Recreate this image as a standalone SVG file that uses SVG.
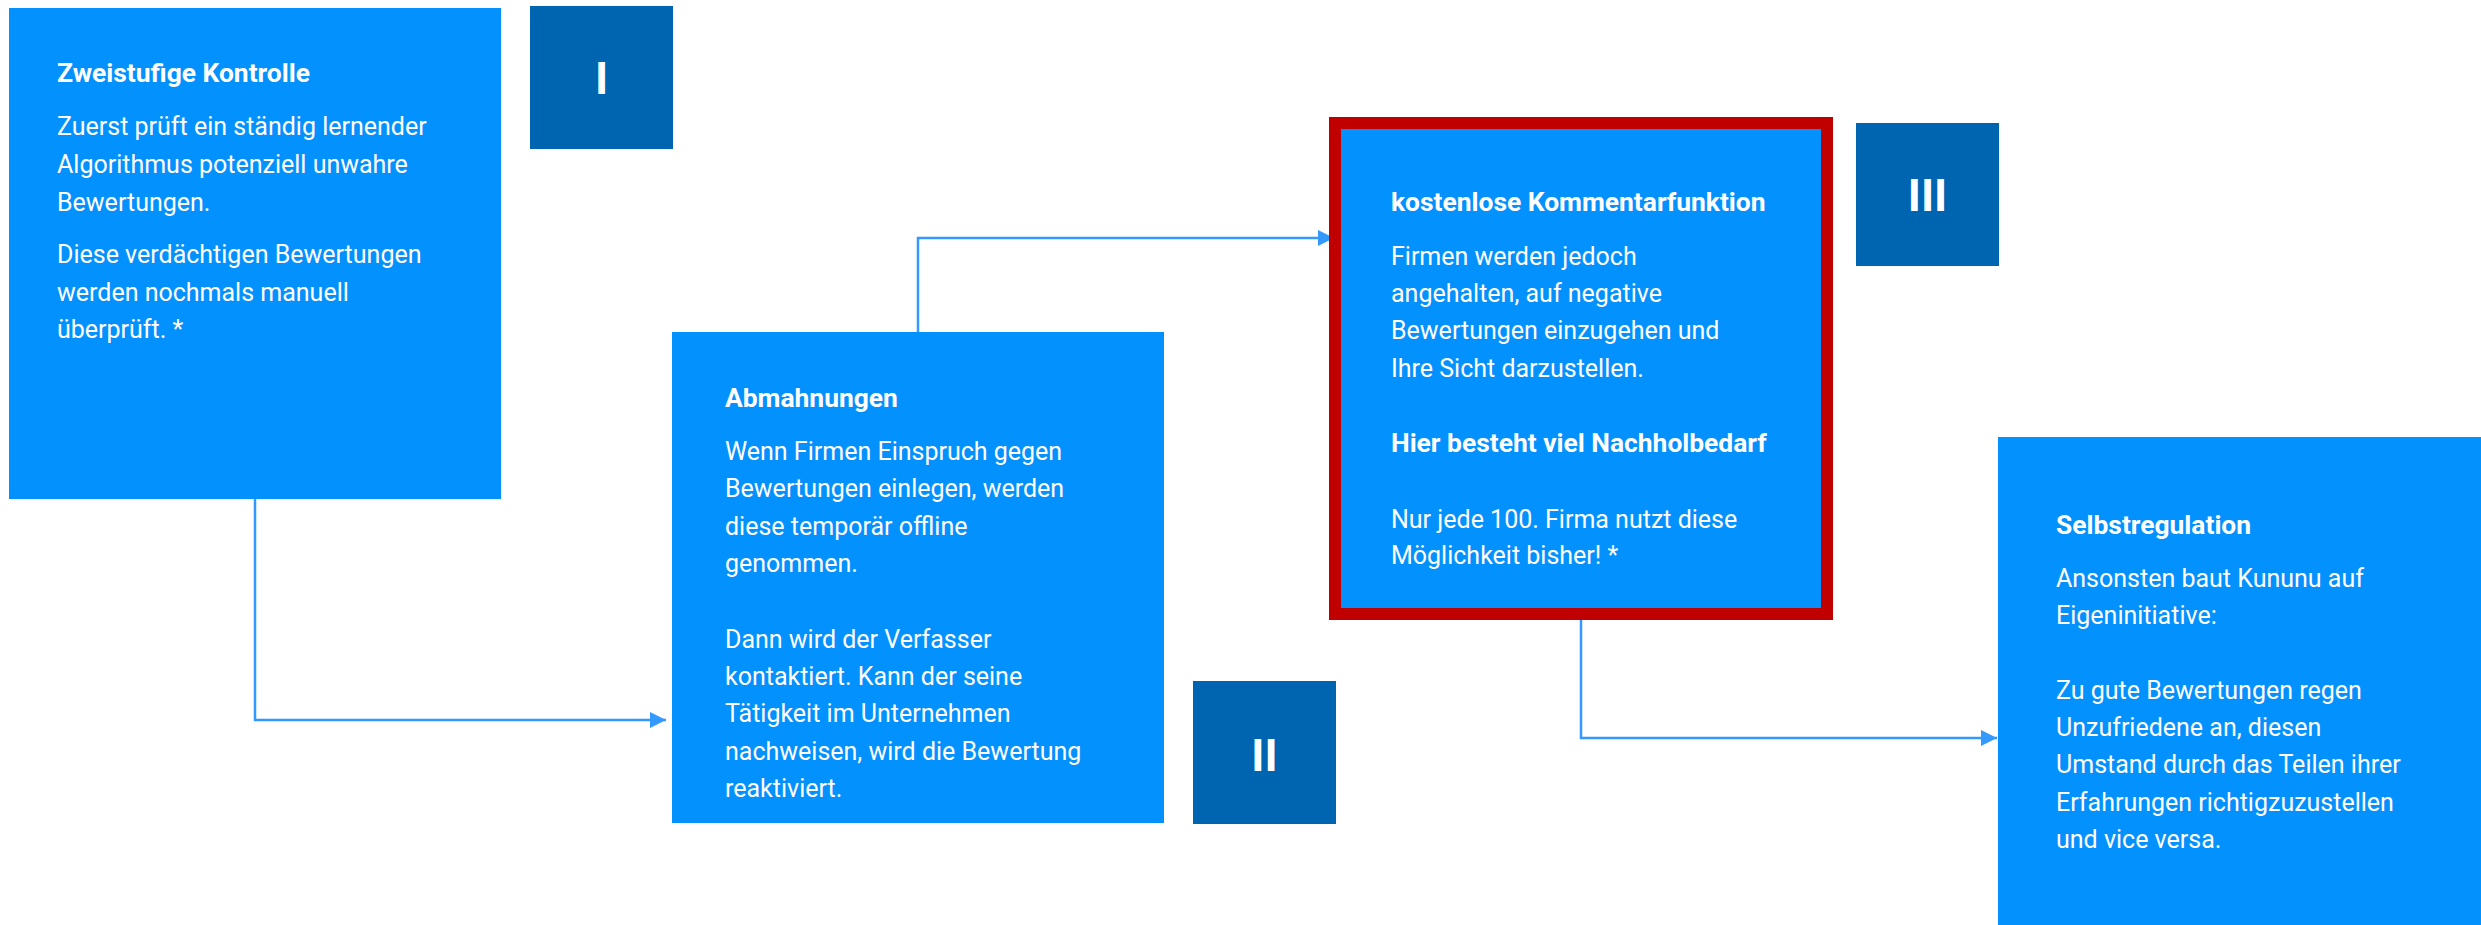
<svg xmlns="http://www.w3.org/2000/svg" width="2481" height="925" viewBox="0 0 2481 925">
<defs>
<style>
.box{fill:#0391FE}
.badge{fill:#0065B0}
.t{font-family:Roboto,"Liberation Sans",sans-serif;font-size:25px;fill:#FFFFFF}
.b{font-weight:700;font-size:26.4px}
.num{font-family:Roboto,"Liberation Sans",sans-serif;font-size:45px;font-weight:700;fill:#FFFFFF;text-anchor:middle}
.con{fill:none;stroke:#3399FF;stroke-width:2.5}
</style>
<marker id="arr" markerWidth="16" markerHeight="16" viewBox="0 0 16 16" refX="16" refY="8" orient="auto" markerUnits="userSpaceOnUse">
<path d="M0,0 L16,8 L0,16 Z" fill="#3399FF"/>
</marker>
</defs>
<rect width="2481" height="925" fill="#FFFFFF"/>
<g id="connectors">
<path class="con" d="M255,499 V720 H666" marker-end="url(#arr)"/>
<path class="con" d="M918,332 V238 H1334" marker-end="url(#arr)"/>
<path class="con" d="M1581,620 V738 H1997" marker-end="url(#arr)"/>
</g>
<g id="node1">
<rect class="box" x="9" y="8" width="492" height="491"/>
<text class="t b" x="57" y="82">Zweistufige Kontrolle</text>
<text class="t" x="57" y="135">Zuerst prüft ein ständig lernender</text>
<text class="t" x="57" y="173">Algorithmus potenziell unwahre</text>
<text class="t" x="57" y="211">Bewertungen.</text>
<text class="t" x="57" y="263">Diese verdächtigen Bewertungen</text>
<text class="t" x="57" y="301">werden nochmals manuell</text>
<text class="t" x="57" y="338">überprüft. *</text>
</g>
<g id="badge1">
<rect class="badge" x="530" y="6" width="143" height="143"/>
<text class="num" x="601.5" y="94">I</text>
</g>
<g id="node2">
<rect class="box" x="672" y="332" width="492" height="491"/>
<text class="t b" x="725" y="407">Abmahnungen</text>
<text class="t" x="725" y="460">Wenn Firmen Einspruch gegen</text>
<text class="t" x="725" y="497">Bewertungen einlegen, werden</text>
<text class="t" x="725" y="535">diese temporär offline</text>
<text class="t" x="725" y="572">genommen.</text>
<text class="t" x="725" y="648">Dann wird der Verfasser</text>
<text class="t" x="725" y="685">kontaktiert. Kann der seine</text>
<text class="t" x="725" y="722">Tätigkeit im Unternehmen</text>
<text class="t" x="725" y="760">nachweisen, wird die Bewertung</text>
<text class="t" x="725" y="797">reaktiviert.</text>
</g>
<g id="badge2">
<rect class="badge" x="1193" y="681" width="143" height="143"/>
<text class="num" x="1264.5" y="771">II</text>
</g>
<g id="node3">
<rect class="box" x="1335" y="123" width="492" height="491" stroke="#C00000" stroke-width="12"/>
<text class="t b" x="1391" y="211">kostenlose Kommentarfunktion</text>
<text class="t" x="1391" y="265">Firmen werden jedoch</text>
<text class="t" x="1391" y="302">angehalten, auf negative</text>
<text class="t" x="1391" y="339">Bewertungen einzugehen und</text>
<text class="t" x="1391" y="377">Ihre Sicht darzustellen.</text>
<text class="t b" x="1391" y="452">Hier besteht viel Nachholbedarf</text>
<text class="t" x="1391" y="528">Nur jede 100. Firma nutzt diese</text>
<text class="t" x="1391" y="564">Möglichkeit bisher! *</text>
</g>
<g id="badge3">
<rect class="badge" x="1856" y="123" width="143" height="143"/>
<text class="num" x="1927.5" y="211">III</text>
</g>
<g id="node4">
<rect class="box" x="1998" y="437" width="492" height="491"/>
<text class="t b" x="2056" y="534">Selbstregulation</text>
<text class="t" x="2056" y="587">Ansonsten baut Kununu auf</text>
<text class="t" x="2056" y="624">Eigeninitiative:</text>
<text class="t" x="2056" y="699">Zu gute Bewertungen regen</text>
<text class="t" x="2056" y="736">Unzufriedene an, diesen</text>
<text class="t" x="2056" y="773">Umstand durch das Teilen ihrer</text>
<text class="t" x="2056" y="811">Erfahrungen richtigzuzustellen</text>
<text class="t" x="2056" y="848">und vice versa.</text>
</g>
</svg>
